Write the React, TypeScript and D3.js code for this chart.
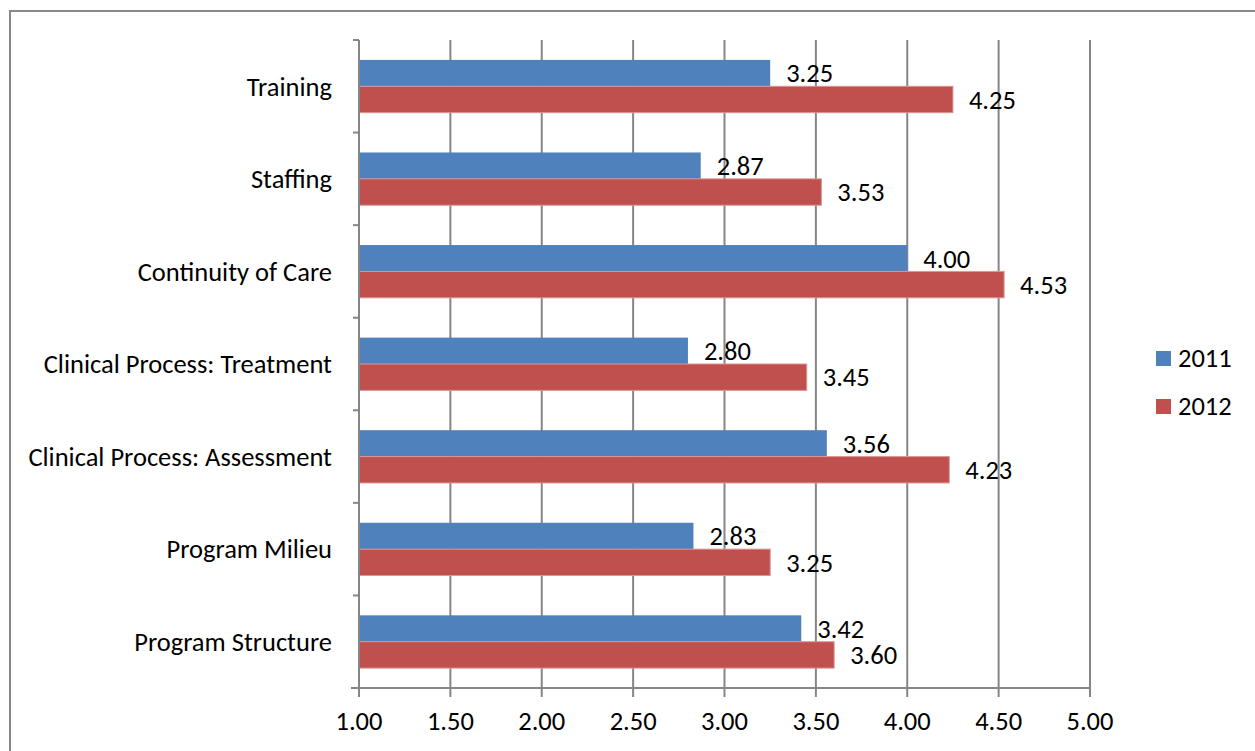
import React from "react";
import * as d3 from "d3";

const categories = [
  "Training",
  "Staffing",
  "Continuity of Care",
  "Clinical Process: Treatment",
  "Clinical Process: Assessment",
  "Program Milieu",
  "Program Structure",
];
const values2011 = [3.25, 2.87, 4.0, 2.8, 3.56, 2.83, 3.42];
const values2012 = [4.25, 3.53, 4.53, 3.45, 4.23, 3.25, 3.6];
const seriesNames = ["2011", "2012"];
const seriesColors = ["#4F81BD", "#C0504D"];
const xTicks = [1, 1.5, 2, 2.5, 3, 3.5, 4, 4.5, 5];

const W = 1255;
const H = 751;
const left = 359;
const right = 1090;
const top = 40;
const bottom = 688;
const FONT = "Carlito, Calibri, 'Liberation Sans', Arial, sans-serif";
const FS = 26.5;

export default function App() {
  const x = d3.scaleLinear().domain([1, 5]).range([left, right]);
  const y = d3
    .scaleBand<string>()
    .domain(categories)
    .range([top, bottom])
    .paddingInner(0.43)
    .paddingOuter(0.215);
  const band = (bottom - top) / categories.length;
  const sub = d3
    .scaleBand<string>()
    .domain(seriesNames)
    .range([0, y.bandwidth()]);
  const series = [values2011, values2012];
  const grid = "#868686";

  return (
    <div style={{ position: "fixed", left: 0, top: 0 }}>
      <svg width={W} height={H} style={{ display: "block", background: "#fff" }}>
        <rect x={10} y={11} width={W + 20} height={H + 20} fill="#fff" stroke="#888" strokeWidth={2} />
        {/* vertical gridlines */}
        {xTicks.slice(1).map((t) => (
          <line key={"g" + t} x1={x(t)} x2={x(t)} y1={top} y2={bottom} stroke={grid} strokeWidth={2} />
        ))}
        {/* bars */}
        {series.map((vals, si) =>
          categories.map((c, i) => {
            const yy = (y(c) as number) + (sub(seriesNames[si]) as number);
            return (
              <g key={si + "-" + i}>
                <rect
                  x={x(1)}
                  y={yy}
                  width={x(vals[i]) - x(1)}
                  height={sub.bandwidth()}
                  fill={seriesColors[si]}
                  stroke={si === 1 ? "#D99694" : "none"}
                  strokeWidth={si === 1 ? 1 : 0}
                />
                <text
                  x={x(vals[i]) + 16}
                  y={yy + sub.bandwidth() / 2}
                  dy="0.35em"
                  fontFamily={FONT}
                  fontSize={FS}
                  fill="#000"
                >
                  {vals[i].toFixed(2)}
                </text>
              </g>
            );
          })
        )}
        {/* y axis */}
        <line x1={left} x2={left} y1={top} y2={bottom} stroke={grid} strokeWidth={2} />
        {d3.range(categories.length + 1).map((k) => (
          <line key={"yt" + k} x1={left - 6} x2={left} y1={top + k * band} y2={top + k * band} stroke={grid} strokeWidth={2} />
        ))}
        {categories.map((c) => (
          <text
            key={"l" + c}
            x={332}
            y={(y(c) as number) + y.bandwidth() / 2}
            dy="0.35em"
            textAnchor="end"
            fontFamily={FONT}
            fontSize={FS}
            fill="#000"
          >
            {c}
          </text>
        ))}
        {/* x axis */}
        <line x1={left - 8} x2={right} y1={bottom} y2={bottom} stroke={grid} strokeWidth={2} />
        {xTicks.map((t) => (
          <g key={"xt" + t}>
            <line x1={x(t)} x2={x(t)} y1={bottom} y2={bottom + 9} stroke={grid} strokeWidth={2} />
            <text x={x(t)} y={bottom + 42} textAnchor="middle" fontFamily={FONT} fontSize={FS} fill="#000">
              {t.toFixed(2)}
            </text>
          </g>
        ))}
        {/* legend */}
        {seriesNames.map((s, i) => (
          <g key={"lg" + s} transform={`translate(1156, ${351 + i * 48})`}>
            <rect x={0} y={0} width={15} height={15} fill={seriesColors[i]} />
            <text x={22} y={16} fontFamily={FONT} fontSize={FS} fill="#000">
              {s}
            </text>
          </g>
        ))}
      </svg>
    </div>
  );
}
